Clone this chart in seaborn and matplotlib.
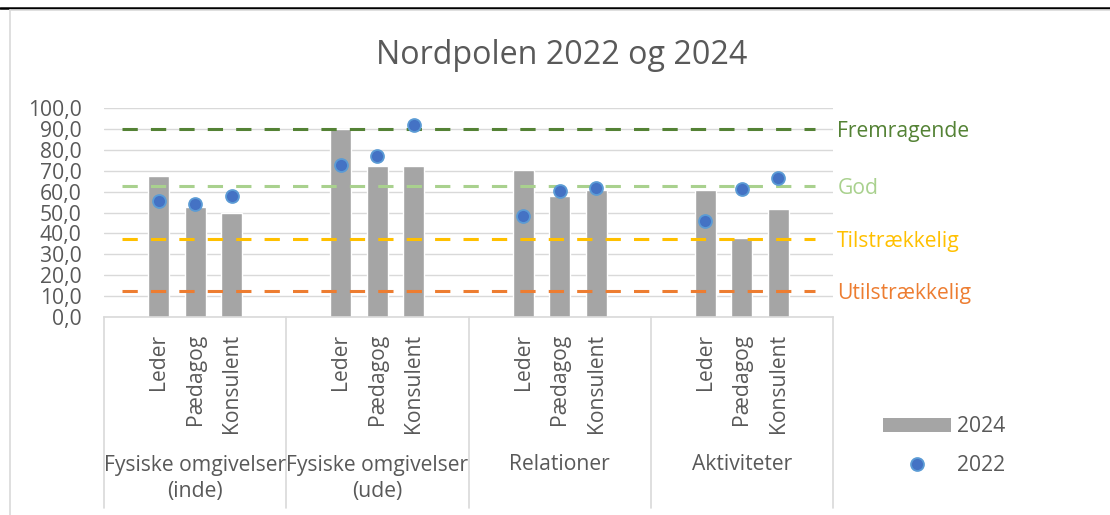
import numpy as np
import pandas as pd
import matplotlib
matplotlib.use("Agg")
import matplotlib.pyplot as plt
import seaborn as sns
from matplotlib.lines import Line2D
from matplotlib.patches import Patch
from matplotlib.ticker import FuncFormatter
import matplotlib.transforms as mtransforms

# Data
groups = ["Fysiske omgivelser\n(inde)", "Fysiske omgivelser\n(ude)", "Relationer", "Aktiviteter"]
roles = ["Leder", "Pædagog", "Konsulent"]
values_2024 = [67.3, 52.4, 50.0,
               89.8, 72.3, 72.3,
               70.2, 58.1, 60.6,
               60.9, 37.9, 51.8]
values_2022 = [55.3, 54.2, 57.7,
               72.5, 76.9, 91.8,
               48.5, 60.3, 61.7,
               46.1, 61.3, 66.7]
levels = [90, 62.5, 37.5, 12.5]
level_names = ["Fremragende", "God", "Tilstrækkelig", "Utilstrækkelig"]
level_colors = ["#548235", "#A9D18E", "#FFC000", "#ED7D31"]

# Excel-style layout: each group has a blank slot before and after the three roles
slots, slot_role, v24, v22 = [], [], [], []
k = 0
for g in range(len(groups)):
    for s in range(5):
        slots.append(f"s{g}_{s}")
        if 1 <= s <= 3:
            slot_role.append(roles[s - 1])
            v24.append(values_2024[k])
            v22.append(values_2022[k])
            k += 1
        else:
            slot_role.append("")
            v24.append(np.nan)
            v22.append(np.nan)
df = pd.DataFrame({"slot": slots, "role": slot_role, "v2024": v24, "v2022": v22})

sns.set_theme(style="white")
plt.rcParams["font.family"] = ["Open Sans", "DejaVu Sans"]
text_gray = "#595959"
fs = 15.2

fig = plt.figure(figsize=(11.1, 5.15), dpi=100)
W, H = 1110, 515
ax = fig.add_axes([104 / W, 1 - 317 / H, (833 - 104) / W, (317 - 108) / H])

sns.barplot(data=df, x="slot", y="v2024", order=slots, color="#A5A5A5",
            saturation=1, width=0.58, ax=ax, zorder=2)
sns.stripplot(data=df, x="slot", y="v2022", order=slots, jitter=False,
              color="#4472C4", edgecolor="#5B9BD5", linewidth=1.3, size=9.3,
              ax=ax, zorder=4)

# threshold lines
n = len(slots)
for lv, name, col in zip(levels, level_names, level_colors):
    ax.plot([0, n - 1], [lv, lv], color=col, lw=2.2, dashes=(5, 4.3), zorder=3)
    ax.text(1.006, lv, name, transform=mtransforms.blended_transform_factory(ax.transAxes, ax.transData),
            color=col, fontsize=fs, ha="left", va="center_baseline")

ax.set_xlim(-0.5, n - 0.5)
ax.set_ylim(0, 100)
ax.set_yticks(np.arange(0, 101, 10))
ax.yaxis.set_major_formatter(FuncFormatter(lambda v, p: f"{v:.1f}".replace(".", ",")))
ax.tick_params(axis="y", length=0, pad=16, labelsize=fs, labelcolor=text_gray)
ax.set_xticks([])
ax.set_xlabel("")
ax.set_ylabel("")
ax.yaxis.grid(True, color="#D9D9D9", lw=1)
ax.set_axisbelow(True)
for side in ["top", "right", "left"]:
    ax.spines[side].set_visible(False)
ax.spines["bottom"].set_color("#D9D9D9")
ax.spines["bottom"].set_linewidth(1.2)

# multi-level category axis
trans = mtransforms.blended_transform_factory(ax.transData, ax.transAxes)
ax_h = 317 - 108
for i, r in enumerate(slot_role):
    if r:
        ax.text(i, (317 - 334) / ax_h, r, transform=trans, rotation=90,
                ha="center", va="top", fontsize=fs, color=text_gray)
for g, name in enumerate(groups):
    lines = name.split("\n")
    ax.text(g * 5 + 2, (317 - 465) / ax_h, lines[0], transform=trans,
            ha="center", va="center", fontsize=fs, color=text_gray)
    if len(lines) > 1:
        ax.text(g * 5 + 2, (317 - 492) / ax_h, lines[1], transform=trans,
                ha="center", va="center", fontsize=fs, color=text_gray)
for g in range(len(groups) + 1):
    ax.plot([g * 5 - 0.5] * 2, [0, (317 - 508) / ax_h], transform=trans,
            color="#D9D9D9", lw=1.2, clip_on=False)

fig.text(562 / W, 1 - 56 / H, "Nordpolen 2022 og 2024", ha="center", va="center",
         fontsize=23.2, color=text_gray)

handles = [Patch(facecolor="#A5A5A5", edgecolor="none"),
           Line2D([], [], marker="o", ls="none", markersize=9.3,
                  markerfacecolor="#4472C4", markeredgecolor="#5B9BD5", markeredgewidth=1.3)]
fig.legend(handles, ["2024", "2022"], loc="center left", bbox_to_anchor=(875 / W, 1 - 446 / H),
           frameon=False, fontsize=fs, labelcolor=text_gray, handlelength=3.2,
           handleheight=0.66, labelspacing=0.85, handletextpad=0.3, borderaxespad=0)

# chart frame
fig.add_artist(Line2D([0, 1], [1 - 8 / H] * 2, color="black", lw=1.8))
fig.add_artist(Line2D([10 / W, 1], [1 - 10 / H] * 2, color="#D9D9D9", lw=1.2))
fig.add_artist(Line2D([10 / W] * 2, [0, 1 - 10 / H], color="#D9D9D9", lw=1.2))

fig.savefig("out.png", dpi=100)
